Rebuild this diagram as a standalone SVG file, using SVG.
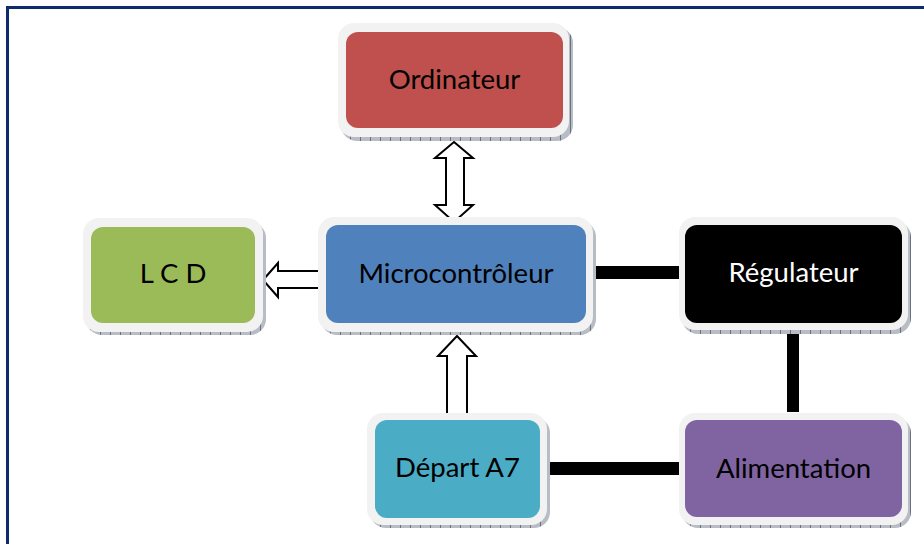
<svg xmlns="http://www.w3.org/2000/svg" width="924" height="544" viewBox="0 0 924 544">
  <defs>
    <!-- tick texture used in the drop shadows under each block -->
    <pattern id="ticks" width="10" height="6" patternUnits="userSpaceOnUse">
      <rect width="10" height="6" fill="#b8bcc4"/>
      <line x1="0.5" y1="0" x2="0.5" y2="6" stroke="#6a7080" stroke-width="1"/>
    </pattern>
  </defs>
  <style>
    .frame { fill: #f2f2f2; }
    .shadow { fill: url(#ticks); }
    .label { font-family: Lato, "Open Sans", "Liberation Sans", sans-serif; font-size: 27.5px; text-anchor: middle; fill: #000; }
    .link { fill: #000; }
    .barrow { fill: #fff; stroke: #000; stroke-width: 2; stroke-linejoin: miter; }
  </style>

  <rect width="924" height="544" fill="#fff"/>

  <!-- page border -->
  <g id="border" fill="#0f2b69">
    <rect x="6" y="6" width="918" height="3"/>
    <rect x="6" y="6" width="3" height="538"/>
  </g>

  <!-- connectors -->
  <g id="connectors">
    <rect class="link" x="595" y="266" width="84" height="13"/>
    <rect class="link" x="787" y="330" width="12" height="82"/>
    <rect class="link" x="547" y="462" width="132" height="13"/>
    <!-- Ordinateur <-> Microcontrôleur -->
    <path class="barrow" d="M454,142 L473,158 L464,158 L464,205 L473,205 L454,222 L435,205 L446,205 L446,158 L435,158 Z"/>
    <!-- Microcontrôleur -> LCD -->
    <path class="barrow" d="M263,280 L278,263 L278,271 L322,271 L322,288 L278,288 L278,297 Z"/>
    <!-- Départ A7 -> Microcontrôleur -->
    <path class="barrow" d="M457,336 L476,356 L467,356 L467,417 L447,417 L447,356 L438,356 Z"/>
  </g>

  <g id="ordinateur">
    <rect class="shadow" x="341" y="27" width="232" height="114" rx="16"/>
    <rect class="frame" x="338" y="23" width="231" height="114" rx="16"/>
    <rect x="346" y="32" width="217" height="96" rx="12" fill="#c0504d"/>
    <text class="label" x="454.5" y="89">Ordinateur</text>
  </g>

  <g id="lcd">
    <rect class="shadow" x="86" y="222" width="180" height="113" rx="16"/>
    <rect class="frame" x="83" y="218" width="180" height="114" rx="16"/>
    <rect x="91" y="227" width="164" height="96" rx="12" fill="#9bbb59"/>
    <text class="label" x="173" y="283">L C D</text>
  </g>

  <g id="microcontroleur">
    <rect class="shadow" x="321" y="221" width="275" height="114" rx="16"/>
    <rect class="frame" x="318" y="217" width="275" height="115" rx="16"/>
    <rect x="326" y="225" width="260" height="98" rx="12" fill="#4f81bd"/>
    <text class="label" x="456" y="283">Microcontrôleur</text>
  </g>

  <g id="regulateur">
    <rect class="shadow" x="682" y="221" width="229" height="113" rx="16"/>
    <rect class="frame" x="679" y="217" width="229" height="113" rx="16"/>
    <rect x="685" y="225" width="217" height="98" rx="12" fill="#000"/>
    <text class="label" x="793.5" y="282" style="fill:#fff">Régulateur</text>
  </g>

  <g id="depart">
    <rect class="shadow" x="370" y="417" width="180" height="111" rx="16"/>
    <rect class="frame" x="367" y="413" width="180" height="112" rx="16"/>
    <rect x="375" y="420" width="165" height="98" rx="12" fill="#4bacc6"/>
    <text class="label" x="457.5" y="477">Départ A7</text>
  </g>

  <g id="alimentation">
    <rect class="shadow" x="682" y="417" width="229" height="111" rx="16"/>
    <rect class="frame" x="679" y="413" width="229" height="112" rx="16"/>
    <rect x="685" y="420" width="217" height="97" rx="12" fill="#8064a2"/>
    <text class="label" x="793.5" y="478">Alimentation</text>
  </g>
</svg>
